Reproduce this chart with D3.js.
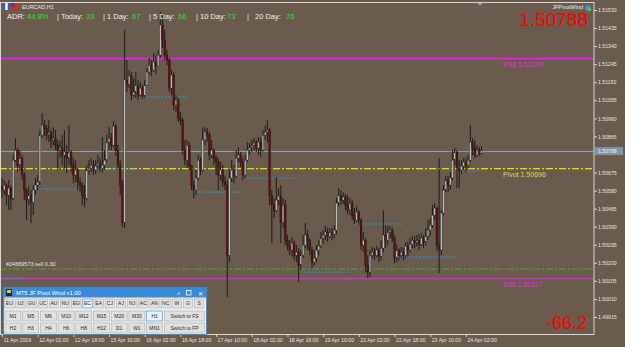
<!DOCTYPE html>
<html>
<head>
<meta charset="utf-8">
<script src="https://cdnjs.cloudflare.com/ajax/libs/d3/7.8.5/d3.min.js"></script>
<style>
  body { margin: 0; background: #6a5b4c; }
  svg { display: block; font-family: "Liberation Sans", Arial, sans-serif; }
</style>
</head>
<body>
<div id="chart"></div>
<script>
// EURCAD H1, one value per hourly bar (open = previous close)
var firstOpen = 1.50600;
var closes = [
  1.50583, 1.50609, 1.50556, 1.50593, 1.50540, 1.50740, 1.50793, 1.50714, 1.50751, 1.50662,
  1.50583, 1.50530, 1.50556, 1.50519, 1.50583, 1.50609, 1.50625, 1.50872, 1.50925, 1.50909,
  1.50872, 1.50888, 1.50846, 1.50856, 1.50819, 1.50793, 1.50804, 1.50767, 1.50783, 1.50751,
  1.50783, 1.50714, 1.50662, 1.50688, 1.50625, 1.50609, 1.50556, 1.50540, 1.50688, 1.50698,
  1.50714, 1.50688, 1.50709, 1.50725, 1.50698, 1.50714, 1.50740, 1.50835, 1.50856, 1.50819,
  1.50919, 1.50793, 1.50714, 1.50609, 1.50414, 1.51162, 1.51140, 1.51183, 1.51083, 1.51098,
  1.51135, 1.51083, 1.51119, 1.51077, 1.51135, 1.51204, 1.51240, 1.51214, 1.51256, 1.51235,
  1.51293, 1.51451, 1.51372, 1.51293, 1.51267, 1.51119, 1.51188, 1.51030, 1.51056, 1.50962,
  1.50951, 1.50793, 1.50740, 1.50819, 1.50714, 1.50609, 1.50583, 1.50646, 1.50740, 1.50688,
  1.50846, 1.50888, 1.50872, 1.50767, 1.50793, 1.50751, 1.50730, 1.50662, 1.50688, 1.50625,
  1.50609, 1.50240, 1.50646, 1.50688, 1.50656, 1.50751, 1.50767, 1.50730, 1.50662, 1.50740,
  1.50793, 1.50804, 1.50819, 1.50830, 1.50804, 1.50835, 1.50793, 1.50872, 1.50888, 1.50898,
  1.50556, 1.50504, 1.50477, 1.50530, 1.50551, 1.50414, 1.50504, 1.50319, 1.50293, 1.50267,
  1.50304, 1.50240, 1.50256, 1.50188, 1.50240, 1.50293, 1.50346, 1.50319, 1.50267, 1.50204,
  1.50225, 1.50267, 1.50288, 1.50330, 1.50346, 1.50362, 1.50340, 1.50362, 1.50351, 1.50372,
  1.50514, 1.50556, 1.50530, 1.50546, 1.50504, 1.50477, 1.50514, 1.50451, 1.50425, 1.50467,
  1.50425, 1.50293, 1.50319, 1.50188, 1.50151, 1.50240, 1.50256, 1.50240, 1.50267, 1.50235,
  1.50277, 1.50346, 1.50319, 1.50362, 1.50372, 1.50330, 1.50225, 1.50267, 1.50240, 1.50256,
  1.50240, 1.50288, 1.50267, 1.50298, 1.50319, 1.50304, 1.50319, 1.50298, 1.50330, 1.50309,
  1.50340, 1.50372, 1.50398, 1.50451, 1.50488, 1.50293, 1.50267, 1.50462, 1.50583, 1.50635,
  1.50609, 1.50646, 1.50740, 1.50783, 1.50698, 1.50688, 1.50709, 1.50730, 1.50714, 1.50740,
  1.50835, 1.50804, 1.50767, 1.50793, 1.50777, 1.50791
];
var highs = [
  1.50646, 1.50635, 1.50619, 1.50635, 1.50609, 1.50767, 1.50856, 1.50804, 1.50793, 1.50767,
  1.50677, 1.50593, 1.50604, 1.50583, 1.50609, 1.50646, 1.50662, 1.50898, 1.50988, 1.50951,
  1.50925, 1.50951, 1.50898, 1.50914, 1.50898, 1.50846, 1.50841, 1.50872, 1.50898, 1.50819,
  1.50925, 1.50793, 1.50751, 1.50740, 1.50698, 1.50646, 1.50625, 1.50609, 1.50714, 1.50740,
  1.50751, 1.50740, 1.50740, 1.50767, 1.50751, 1.50862, 1.50793, 1.50872, 1.50914, 1.50883,
  1.50946, 1.50930, 1.50819, 1.50740, 1.50635, 1.51425, 1.51267, 1.51214, 1.51204, 1.51172,
  1.51204, 1.51162, 1.51151, 1.51135, 1.51162, 1.51225, 1.51277, 1.51267, 1.51304, 1.51293,
  1.51319, 1.51519, 1.51509, 1.51425, 1.51319, 1.51277, 1.51214, 1.51204, 1.51083, 1.51067,
  1.50993, 1.50962, 1.50846, 1.50846, 1.50835, 1.50714, 1.50635, 1.50688, 1.50767, 1.50756,
  1.50909, 1.50914, 1.50909, 1.50888, 1.50846, 1.50804, 1.50767, 1.50751, 1.50730, 1.50714,
  1.50656, 1.50635, 1.50688, 1.50740, 1.50714, 1.50793, 1.50809, 1.50783, 1.50751, 1.50767,
  1.50835, 1.50830, 1.50846, 1.50856, 1.50846, 1.50862, 1.50856, 1.50898, 1.50925, 1.50951,
  1.50909, 1.50583, 1.50540, 1.50651, 1.50593, 1.50609, 1.50540, 1.50530, 1.50346, 1.50319,
  1.50335, 1.50319, 1.50293, 1.50277, 1.50267, 1.50346, 1.50409, 1.50372, 1.50330, 1.50283,
  1.50267, 1.50293, 1.50319, 1.50362, 1.50372, 1.50393, 1.50383, 1.50383, 1.50383, 1.50398,
  1.50540, 1.50593, 1.50583, 1.50572, 1.50562, 1.50556, 1.50540, 1.50530, 1.50488, 1.50498,
  1.50477, 1.50435, 1.50362, 1.50330, 1.50240, 1.50267, 1.50283, 1.50277, 1.50288, 1.50277,
  1.50319, 1.50477, 1.50398, 1.50393, 1.50393, 1.50383, 1.50346, 1.50298, 1.50277, 1.50283,
  1.50277, 1.50309, 1.50309, 1.50330, 1.50340, 1.50340, 1.50346, 1.50351, 1.50356, 1.50346,
  1.50383, 1.50425, 1.50435, 1.50504, 1.50514, 1.50493, 1.50751, 1.50477, 1.50609, 1.50656,
  1.50656, 1.50677, 1.50793, 1.50804, 1.50793, 1.50740, 1.50740, 1.50751, 1.50751, 1.50767,
  1.50925, 1.50856, 1.50846, 1.50819, 1.50809, 1.50814
];
var lows = [
  1.50540, 1.50556, 1.50504, 1.50477, 1.50477, 1.50530, 1.50730, 1.50677, 1.50688, 1.50635,
  1.50530, 1.50425, 1.50504, 1.50409, 1.50451, 1.50556, 1.50583, 1.50609, 1.50856, 1.50867,
  1.50846, 1.50835, 1.50804, 1.50819, 1.50793, 1.50688, 1.50751, 1.50714, 1.50698, 1.50672,
  1.50714, 1.50677, 1.50619, 1.50625, 1.50583, 1.50572, 1.50504, 1.50493, 1.50530, 1.50662,
  1.50677, 1.50662, 1.50667, 1.50688, 1.50677, 1.50677, 1.50688, 1.50730, 1.50793, 1.50793,
  1.50809, 1.50762, 1.50688, 1.50556, 1.50388, 1.50383, 1.51098, 1.51119, 1.51056, 1.51072,
  1.51067, 1.51056, 1.51072, 1.51062, 1.51067, 1.51130, 1.51188, 1.51183, 1.51204, 1.51193,
  1.51235, 1.51277, 1.51330, 1.51267, 1.51240, 1.51098, 1.51083, 1.51004, 1.50993, 1.50941,
  1.50925, 1.50767, 1.50714, 1.50698, 1.50688, 1.50583, 1.50540, 1.50556, 1.50635, 1.50662,
  1.50677, 1.50819, 1.50835, 1.50740, 1.50751, 1.50714, 1.50662, 1.50583, 1.50635, 1.50598,
  1.50583, 1.50020, 1.50204, 1.50625, 1.50619, 1.50646, 1.50730, 1.50704, 1.50635, 1.50646,
  1.50730, 1.50767, 1.50783, 1.50793, 1.50783, 1.50767, 1.50756, 1.50783, 1.50846, 1.50835,
  1.50504, 1.50304, 1.50435, 1.50467, 1.50504, 1.50304, 1.50383, 1.50293, 1.50267, 1.50240,
  1.50230, 1.50214, 1.50204, 1.50098, 1.50162, 1.50225, 1.50277, 1.50267, 1.50240, 1.50172,
  1.50183, 1.50204, 1.50240, 1.50277, 1.50298, 1.50319, 1.50309, 1.50330, 1.50319, 1.50330,
  1.50351, 1.50498, 1.50504, 1.50509, 1.50477, 1.50456, 1.50451, 1.50425, 1.50404, 1.50414,
  1.50398, 1.50267, 1.50256, 1.50151, 1.50119, 1.50125, 1.50225, 1.50214, 1.50230, 1.50204,
  1.50214, 1.50256, 1.50277, 1.50293, 1.50330, 1.50309, 1.50198, 1.50204, 1.50214, 1.50225,
  1.50214, 1.50225, 1.50235, 1.50256, 1.50277, 1.50277, 1.50288, 1.50267, 1.50288, 1.50277,
  1.50293, 1.50319, 1.50340, 1.50383, 1.50425, 1.50267, 1.50146, 1.50240, 1.50451, 1.50572,
  1.50572, 1.50583, 1.50635, 1.50714, 1.50593, 1.50593, 1.50667, 1.50688, 1.50677, 1.50698,
  1.50730, 1.50767, 1.50751, 1.50756, 1.50762, 1.50767
];

// time axis: bar index of each label
var timeTickBars = [0, 16, 32, 48, 64, 80, 96, 112, 128, 144, 160, 176, 192, 208];
var timeTickLabels = ["11 Apr 2019", "12 Apr 02:00", "12 Apr 18:00", "15 Apr 10:00", "16 Apr 02:00",
  "16 Apr 18:00", "17 Apr 10:00", "18 Apr 02:00", "18 Apr 18:00", "19 Apr 10:00",
  "22 Apr 02:00", "22 Apr 18:00", "23 Apr 10:00", "24 Apr 02:00"];

var priceTicks = [1.51530, 1.51435, 1.51340, 1.51245, 1.51150, 1.51055, 1.50960, 1.50865,
  1.50675, 1.50580, 1.50485, 1.50390, 1.50295, 1.50200, 1.50105, 1.50010, 1.49915];

// pivot levels
var levelNames = ["R38", "Pivot", "S38"];
var levelPrices = [1.51274, 1.50696, 1.50117];

// session high / low markers (dotted)
var markPrices = [1.50119, 1.50588, 1.50693, 1.51072, 1.50572, 1.50646, 1.50151, 1.50404, 1.50230, 1.50683];
var markStart = [0, 15, 41, 62, 86, 110, 134, 158, 176, 206];
var markEnd = [11, 36, 60, 84, 108, 132, 156, 180, 204, 214];

var currentPrice = 1.50788;
var orderPrice = 1.50167;
var orderLabel = "#24669573 sell 0.30";
var profitText = "-66.2";

var adrPct = "44.8%";
var adrNames = ["Today", "1 Day", "5 Day", "10 Day", "20 Day"];
var adrValues = [33, 67, 66, 73, 76];

var pairButtons = ["EU", "UJ", "GU", "UC", "AU", "NU", "EG", "EC", "EA", "CJ", "AJ", "NJ", "AC", "AN", "NC", "W", "G", "S"];
var tfRow1 = ["M1", "M5", "M6", "M10", "M12", "M15", "M20", "M30", "H1"];
var tfRow2 = ["H2", "H3", "H4", "H6", "H8", "H12", "D1", "W1", "MN1"];

(function() {
  var width = 625, height = 347;
  var plotRight = 594, plotBottom = 334, plotTop = 2;

  var svg = d3.select("#chart")
    .append("svg")
    .attr("width", width)
    .attr("height", height);

  svg.append("rect")
    .attr("width", width).attr("height", height)
    .attr("fill", "#6a5b4c");

  var x = d3.scaleLinear().domain([0, 215]).range([2, 481.5]);
  var y = d3.scaleLinear().domain([1.49915, 1.51530]).range([317, 10]);

  var plot = svg.append("g");

  // current price line
  plot.append("line")
    .attr("x1", 0).attr("x2", plotRight)
    .attr("y1", Math.round(y(currentPrice)) + 0.5).attr("y2", Math.round(y(currentPrice)) + 0.5)
    .attr("stroke", "#8c9db3").attr("stroke-width", 1);

  // order line
  plot.append("line")
    .attr("x1", 0).attr("x2", plotRight)
    .attr("y1", y(orderPrice)).attr("y2", y(orderPrice))
    .attr("stroke", "#4cae3c").attr("stroke-width", 1)
    .attr("stroke-dasharray", "7,2,2,2");
  plot.append("text")
    .attr("x", 6).attr("y", y(orderPrice) - 3)
    .attr("fill", "#e8e8e8").style("font-size", "5.5px")
    .text(orderLabel);

  // pivot levels
  var levelStyle = {
    "R38": { color: "#f21af2", text: "#e22ee2", width: 1.6, dash: null },
    "Pivot": { color: "#e8e400", text: "#dcd860", width: 1.3, dash: "7,2,2,2" },
    "S38": { color: "#b83cb8", text: "#e22ee2", width: 1.6, dash: null }
  };
  levelNames.forEach(function(name, i) {
    var st = levelStyle[name];
    var ly = y(levelPrices[i]);
    plot.append("line")
      .attr("x1", 0).attr("x2", plotRight)
      .attr("y1", ly).attr("y2", ly)
      .attr("stroke", st.color).attr("stroke-width", st.width)
      .attr("stroke-dasharray", st.dash);
    plot.append("text")
      .attr("x", 503).attr("y", ly + 8)
      .attr("fill", st.text).style("font-size", "7px")
      .text(name + " " + d3.format(".5f")(levelPrices[i]));
  });

  // dotted session markers
  plot.selectAll(".mark")
    .data(markPrices)
    .enter().append("line")
    .attr("class", "mark")
    .attr("x1", function(d, i) { return x(markStart[i]); })
    .attr("x2", function(d, i) { return x(markEnd[i]); })
    .attr("y1", function(d) { return y(d); })
    .attr("y2", function(d) { return y(d); })
    .attr("stroke", "#1f9fe6").attr("stroke-width", 1)
    .attr("stroke-dasharray", "2,1.5");

  // candles
  var bars = closes.map(function(c, i) {
    return { i: i, open: i ? closes[i - 1] : firstOpen, close: c, high: highs[i], low: lows[i] };
  });

  var candle = plot.selectAll(".candle")
    .data(bars)
    .enter().append("g")
    .attr("class", "candle");

  candle.append("line")
    .attr("x1", function(d) { return x(d.i); })
    .attr("x2", function(d) { return x(d.i); })
    .attr("y1", function(d) { return y(d.high); })
    .attr("y2", function(d) { return y(d.low); })
    .attr("stroke", "#141414").attr("stroke-width", 0.9);

  candle.append("rect")
    .attr("x", function(d) { return x(d.i) - 0.9; })
    .attr("width", 1.8)
    .attr("y", function(d) { return y(Math.max(d.open, d.close)); })
    .attr("height", function(d) { return Math.max(0.8, Math.abs(y(d.open) - y(d.close))); })
    .attr("fill", function(d) { return d.close >= d.open ? "#bdbdbd" : "#6a0c0c"; })
    .attr("stroke", "#141414").attr("stroke-width", 0.35);

  // chart frame
  svg.append("rect")
    .attr("x", 0.5).attr("y", plotTop + 0.5)
    .attr("width", plotRight - 0.5).attr("height", plotBottom - plotTop)
    .attr("fill", "none").attr("stroke", "#d8d8d8").attr("stroke-width", 1);

  // chart shift marker
  svg.append("path")
    .attr("d", "M477,3 L483,3 L480,6 Z")
    .attr("fill", "#8aa0b8");

  // price axis
  var yAxis = d3.axisRight(y)
    .tickValues(priceTicks)
    .tickSize(3)
    .tickFormat(d3.format(".5f"));
  var yg = svg.append("g")
    .attr("transform", "translate(" + plotRight + ",0)")
    .call(yAxis);
  yg.select(".domain").remove();
  yg.selectAll("line").attr("stroke", "#d8d8d8");
  yg.selectAll("text").attr("fill", "#e6e6e6").attr("x", 4).style("font-size", "5.2px");

  // current price tag
  svg.append("rect")
    .attr("x", plotRight + 1).attr("y", y(currentPrice) - 4)
    .attr("width", 28).attr("height", 8)
    .attr("fill", "#8193ab");
  svg.append("text")
    .attr("x", plotRight + 4).attr("y", y(currentPrice) + 2)
    .attr("fill", "#f0f4f8").style("font-size", "5.2px")
    .text(d3.format(".5f")(currentPrice));

  // time axis
  var xAxis = d3.axisBottom(x)
    .tickValues(timeTickBars)
    .tickSize(3)
    .tickFormat(function(d, i) { return timeTickLabels[i]; });
  var xg = svg.append("g")
    .attr("transform", "translate(0," + plotBottom + ")")
    .call(xAxis);
  xg.select(".domain").remove();
  xg.selectAll("line").attr("stroke", "#d8d8d8");
  xg.selectAll("text")
    .attr("fill", "#e6e6e6").attr("text-anchor", "start")
    .attr("x", 1).attr("y", 4)
    .style("font-size", "5.2px");

  // header: symbol and ADR line
  svg.append("rect").attr("x", 3).attr("y", 3).attr("width", 7).attr("height", 7).attr("fill", "#3a5ab8");
  svg.append("rect").attr("x", 5.3).attr("y", 3).attr("width", 2.4).attr("height", 7).attr("fill", "#ffffff");
  svg.append("rect").attr("x", 11).attr("y", 3).attr("width", 7).attr("height", 7).attr("fill", "#d42a2a");
  svg.append("rect").attr("x", 11).attr("y", 3).attr("width", 3.5).attr("height", 3.5).attr("fill", "#3048a8");
  svg.append("text")
    .attr("x", 22).attr("y", 9)
    .attr("fill", "#f0f0f0").style("font-size", "5.5px")
    .text("EURCAD,H1");

  var adrX = [7, 27, 57, 86, 103, 132, 149, 178, 196, 227, 255, 286];
  var adrParts = [["ADR:", "#f0f0f0"], [adrPct, "#2fe02f"]];
  adrNames.forEach(function(n, i) {
    adrParts.push([(i === 4 ? "" : "| ") + n + ":", "#f0f0f0"]);
    adrParts.push([String(adrValues[i]), "#2fe02f"]);
  });
  var adr = svg.append("text").attr("y", 19).style("font-size", "7.5px");
  adrParts.forEach(function(p, i) {
    adr.append("tspan").attr("x", adrX[i]).attr("fill", p[1]).text(p[0]);
  });
  svg.append("text").attr("x", 247).attr("y", 19)
    .attr("fill", "#f0f0f0").style("font-size", "7.5px").text("|");

  // indicator name and big numbers
  svg.append("text")
    .attr("x", 583).attr("y", 9).attr("text-anchor", "end")
    .attr("fill", "#f0f0f0").style("font-size", "5.5px")
    .text("JFPivotWind");
  svg.append("circle").attr("cx", 588).attr("cy", 8).attr("r", 3).attr("fill", "#4a8fd0");
  svg.append("circle").attr("cx", 589.5).attr("cy", 9.5).attr("r", 1.8).attr("fill", "#4cc84c");

  svg.append("text")
    .attr("x", 588).attr("y", 26).attr("text-anchor", "end")
    .attr("fill", "#ff0000").style("font-size", "19px")
    .text(d3.format(".5f")(currentPrice));
  svg.append("text")
    .attr("x", 587).attr("y", 329).attr("text-anchor", "end")
    .attr("fill", "#ff0000").style("font-size", "18px")
    .text(profitText);

  // control panel
  var panel = svg.append("g");
  panel.append("rect")
    .attr("x", 3.5).attr("y", 287.5).attr("width", 203).attr("height", 47)
    .attr("fill", "#f0f0f0").attr("stroke", "#3a8ad6");
  panel.append("rect")
    .attr("x", 3.5).attr("y", 287.5).attr("width", 203).attr("height", 10)
    .attr("fill", "#3a8ad6");
  panel.append("rect").attr("x", 6).attr("y", 289).attr("width", 6).attr("height", 7).attr("fill", "#2b2b2b");
  panel.append("rect").attr("x", 7).attr("y", 290).attr("width", 4).attr("height", 3).attr("fill", "#e0c040");
  panel.append("text")
    .attr("x", 16).attr("y", 295.3)
    .attr("fill", "#ffffff").style("font-size", "5.8px")
    .text("MT5 JF Pivot Wind v1.00");
  panel.append("text").attr("x", 177).attr("y", 296.5).attr("fill", "#ffffff").style("font-size", "7px").text("^");
  panel.append("rect").attr("x", 186.5).attr("y", 290.5).attr("width", 4.5).attr("height", 4.5)
    .attr("fill", "none").attr("stroke", "#ffffff").attr("stroke-width", 0.8);
  panel.append("text").attr("x", 197.5).attr("y", 295.5).attr("fill", "#ffffff").style("font-size", "6px").text("✕");

  function buttons(labels, x0, step, w, top, h, selected) {
    var g = panel.append("g");
    var b = g.selectAll("g")
      .data(labels)
      .enter().append("g");
    b.append("rect")
      .attr("x", function(d, i) { return x0 + i * step; })
      .attr("y", top)
      .attr("width", w).attr("height", h)
      .attr("fill", function(d) { return d === selected ? "#e5f1fb" : "#e1e1e1"; })
      .attr("stroke", function(d) { return d === selected ? "#3a8ad6" : "#adadad"; })
      .attr("stroke-width", 0.6);
    b.append("text")
      .attr("x", function(d, i) { return x0 + i * step + w / 2; })
      .attr("y", top + h / 2 + 1.8)
      .attr("text-anchor", "middle")
      .attr("fill", "#1e1e1e").style("font-size", "5px")
      .text(function(d) { return d; });
  }
  buttons(pairButtons, 4.6, 11.17, 9.4, 299, 9, "EC");
  buttons(tfRow1, 5, 17.7, 16, 311, 10, "H1");
  buttons(tfRow2, 5, 17.7, 16, 323, 10, null);
  buttons(["Switch to FS"], 164.5, 0, 40, 311, 10, null);
  buttons(["Switch to FP"], 164.5, 0, 40, 323, 10, null);
})();
</script>
</body>
</html>
